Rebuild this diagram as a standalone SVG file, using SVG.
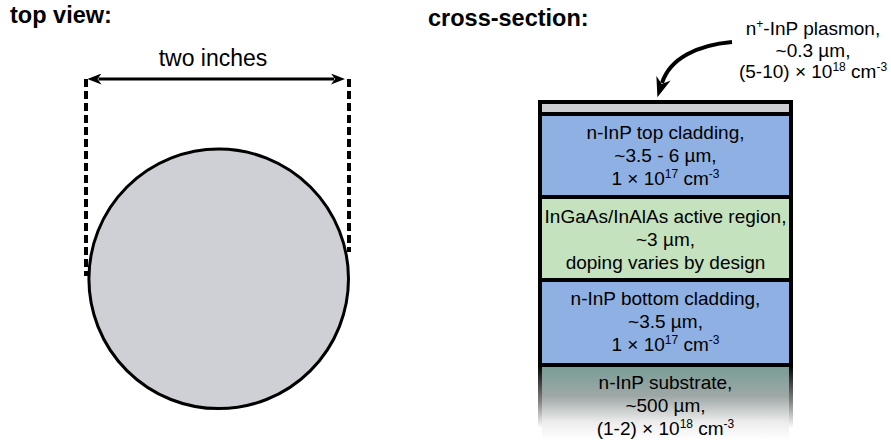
<svg xmlns="http://www.w3.org/2000/svg" width="891" height="445" viewBox="0 0 891 445">
<style>
text{font-family:"Liberation Sans",Arial,sans-serif;fill:#000}
.title{font-size:23.5px;font-weight:bold}
.lbl{font-size:19px;text-anchor:middle}
.dim{font-size:23px;text-anchor:middle}
.sup{font-size:12px}
.layer{stroke:#000;stroke-width:4}
.conn{fill:none;stroke:#000}
</style>
<defs>
<marker id="ah" viewBox="0 0 14 11" refX="3" refY="5.5" markerWidth="14" markerHeight="11" markerUnits="userSpaceOnUse" orient="auto-start-reverse">
<path d="M0,0 L14,5.5 L0,11 L4,5.5 Z" fill="#000"/>
</marker>
<marker id="ah2" viewBox="0 0 20 15" refX="5" refY="7.5" markerWidth="20" markerHeight="15" markerUnits="userSpaceOnUse" orient="auto">
<path d="M0,0 L20,7.5 L0,15 L6,7.5 Z" fill="#000"/>
</marker>
<linearGradient id="subFill" x1="0" y1="367" x2="0" y2="440" gradientUnits="userSpaceOnUse">
<stop offset="0" stop-color="#7a9d97"/>
<stop offset="0.4" stop-color="#9ea8a6"/>
<stop offset="0.75" stop-color="#ececec"/>
<stop offset="1" stop-color="#ffffff"/>
</linearGradient>
<linearGradient id="subEdge" x1="0" y1="365" x2="0" y2="428" gradientUnits="userSpaceOnUse">
<stop offset="0" stop-color="#000"/>
<stop offset="0.6" stop-color="#888"/>
<stop offset="1" stop-color="#fff"/>
</linearGradient>
</defs>

<text class="title" x="10" y="23">top view:</text>
<text class="title" x="428" y="26">cross-section:</text>

<g id="wafer">
<line x1="86" y1="79" x2="86" y2="276" stroke="#000" stroke-width="4" stroke-dasharray="8 4"/>
<line x1="349" y1="79" x2="349" y2="252" stroke="#000" stroke-width="4" stroke-dasharray="8 4"/>
<circle cx="218.7" cy="278.8" r="129.8" fill="#cfd0d5" stroke="#000" stroke-width="3"/>
</g>

<g id="dimension">
<text class="dim" x="213" y="66">two inches</text>
</g>

<g id="layer-plasmon">
<rect class="layer" x="540" y="102" width="251" height="12" fill="#cdced3"/>
</g>
<g id="layer-top-cladding">
<rect class="layer" x="540" y="114" width="251" height="83" fill="#8fb0e3"/>
<text class="lbl" x="665.5" y="139">n-InP top cladding,</text>
<text class="lbl" x="665.5" y="162">~3.5 - 6 µm,</text>
<text class="lbl" x="665.5" y="185">1 × 10<tspan class="sup" dy="-7">17</tspan><tspan dy="7"> cm</tspan><tspan class="sup" dy="-7">-3</tspan></text>
</g>
<g id="layer-active">
<rect class="layer" x="540" y="197" width="251" height="83" fill="#c5e2be"/>
<text class="lbl" x="665.5" y="223">InGaAs/InAlAs active region,</text>
<text class="lbl" x="665.5" y="246">~3 µm,</text>
<text class="lbl" x="665.5" y="269">doping varies by design</text>
</g>
<g id="layer-bottom-cladding">
<rect class="layer" x="540" y="280" width="251" height="85" fill="#8fb0e3"/>
<text class="lbl" x="665.5" y="305">n-InP bottom cladding,</text>
<text class="lbl" x="665.5" y="328">~3.5 µm,</text>
<text class="lbl" x="665.5" y="351">1 × 10<tspan class="sup" dy="-7">17</tspan><tspan dy="7"> cm</tspan><tspan class="sup" dy="-7">-3</tspan></text>
</g>
<g id="layer-substrate">
<rect x="542" y="367" width="247" height="78" fill="url(#subFill)"/>
<line x1="540" y1="365" x2="540" y2="430" stroke="url(#subEdge)" stroke-width="4"/>
<line x1="791" y1="365" x2="791" y2="430" stroke="url(#subEdge)" stroke-width="4"/>
<line x1="538" y1="365" x2="793" y2="365" stroke="#000" stroke-width="4"/>
<text class="lbl" x="665.5" y="389">n-InP substrate,</text>
<text class="lbl" x="665.5" y="412">~500 µm,</text>
<text class="lbl" x="665.5" y="435">(1-2) × 10<tspan class="sup" dy="-7">18</tspan><tspan dy="7"> cm</tspan><tspan class="sup" dy="-7">-3</tspan></text>
</g>

<g id="plasmon-label">
<text class="lbl" x="813" y="35">n<tspan class="sup" dy="-7">+</tspan><tspan dy="7">-InP plasmon,</tspan></text>
<text class="lbl" x="813" y="56.5">~0.3 µm,</text>
<text class="lbl" x="813" y="78">(5-10) × 10<tspan class="sup" dy="-7">18</tspan><tspan dy="7"> cm</tspan><tspan class="sup" dy="-7">-3</tspan></text>
</g>

<g id="connectors">
<line class="conn" x1="98.5" y1="79" x2="334" y2="79" stroke-width="3" marker-start="url(#ah)" marker-end="url(#ah)"/>
<path class="conn" d="M732,42 C698,45 670,58 662,83" stroke-width="4" marker-end="url(#ah2)"/>
</g>
</svg>
